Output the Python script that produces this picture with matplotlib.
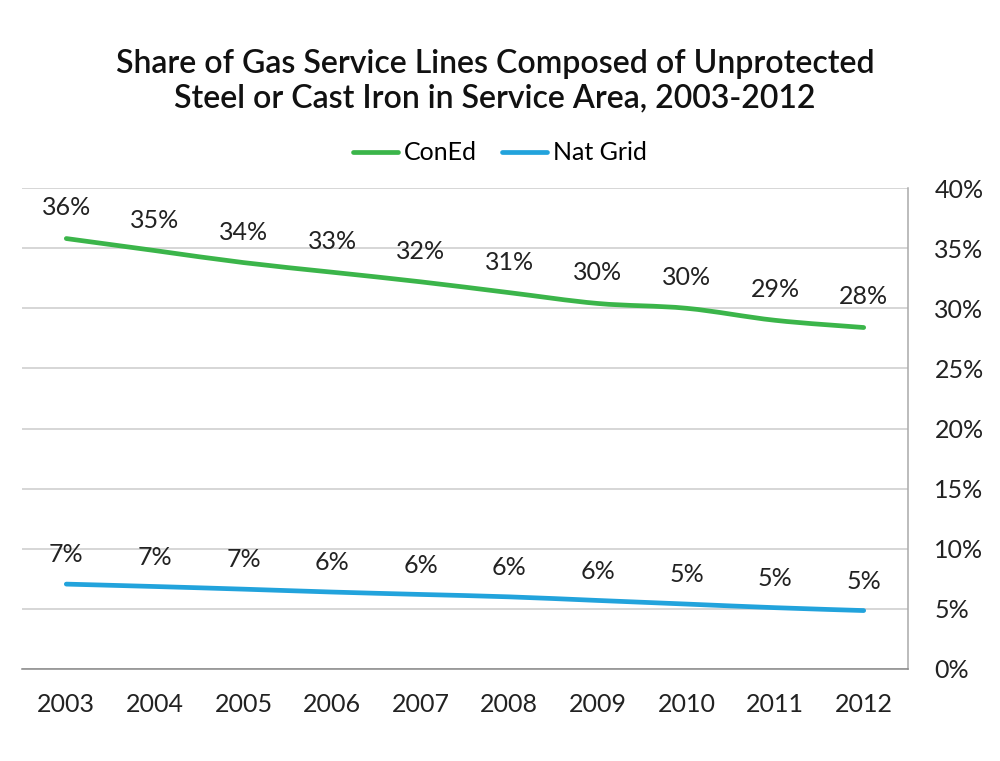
import matplotlib
matplotlib.use("Agg")
import matplotlib.pyplot as plt
from matplotlib.path import Path
from matplotlib.patches import PathPatch
from matplotlib.lines import Line2D
import numpy as np

plt.rcParams['font.family'] = ['Lato', 'DejaVu Sans']

years = ['2003', '2004', '2005', '2006', '2007', '2008', '2009', '2010', '2011', '2012']
coned = [35.8, 34.8, 33.8, 33.0, 32.2, 31.3, 30.4, 30.0, 29.0, 28.4]
natgrid = [7.06, 6.86, 6.64, 6.4, 6.2, 6.0, 5.7, 5.4, 5.1, 4.86]
coned_labels = ['36%', '35%', '34%', '33%', '32%', '31%', '30%', '30%', '29%', '28%']
natgrid_labels = ['7%', '7%', '7%', '6%', '6%', '6%', '6%', '5%', '5%', '5%']
yticks = [0, 5, 10, 15, 20, 25, 30, 35, 40]
ytick_labels = ['0%', '5%', '10%', '15%', '20%', '25%', '30%', '35%', '40%']
title = "Share of Gas Service Lines Composed of Unprotected\nSteel or Cast Iron in Service Area, 2003-2012"

GREEN = '#3BB54A'
BLUE = '#22A3DC'
FS = 18

fig = plt.figure(figsize=(10, 7.61), dpi=100)
ax = fig.add_axes([0.022, 0.1209, 0.886, 0.632])

def smooth_path(xs, ys):
    pts = np.column_stack([xs, ys]).astype(float)
    n = len(pts)
    verts = [pts[0]]
    codes = [Path.MOVETO]
    for i in range(n - 1):
        p0 = pts[i - 1] if i > 0 else pts[i]
        p1 = pts[i]
        p2 = pts[i + 1]
        p3 = pts[i + 2] if i + 2 < n else pts[i + 1]
        c1 = p1 + (p2 - p0) / 6.0
        c2 = p2 - (p3 - p1) / 6.0
        verts += [c1, c2, p2]
        codes += [Path.CURVE4] * 3
    return Path(verts, codes)

x = np.arange(len(years))
for vals, col in [(coned, GREEN), (natgrid, BLUE)]:
    patch = PathPatch(smooth_path(x, vals), facecolor='none', edgecolor=col,
                      lw=3.4, capstyle='round', joinstyle='round', zorder=3)
    ax.add_patch(patch)

for xi, v, lab in zip(x, coned, coned_labels):
    ax.annotate(lab, (xi, v), xytext=(0, 22), textcoords='offset points',
                ha='center', va='center', fontsize=FS, color='#222222')
for xi, v, lab in zip(x, natgrid, natgrid_labels):
    ax.annotate(lab, (xi, v), xytext=(0, 21), textcoords='offset points',
                ha='center', va='center', fontsize=FS, color='#222222')

ax.set_xlim(-0.5, len(years) - 0.5)
ax.set_ylim(0, 40)
ax.set_xticks(x)
ax.set_xticklabels(years, fontsize=FS, color='#222222')
ax.yaxis.tick_right()
ax.set_yticks(yticks)
ax.set_yticklabels(ytick_labels, fontsize=FS, color='#222222')
ax.tick_params(axis='y', length=0, pad=19)
ax.tick_params(axis='x', length=0, pad=17)
ax.grid(axis='y', color='#cccccc', lw=1.1, zorder=0)
ax.set_axisbelow(True)
for s in ['left', 'top']:
    ax.spines[s].set_visible(False)
ax.spines['right'].set_color('#aaaaaa')
ax.spines['bottom'].set_color('#888888')
ax.spines['right'].set_linewidth(1.1)
ax.spines['bottom'].set_linewidth(1.1)

handles = [Line2D([], [], color=GREEN, lw=3.4, solid_capstyle='round'),
           Line2D([], [], color=BLUE, lw=3.4, solid_capstyle='round')]
fig.legend(handles, ['ConEd', 'Nat Grid'], loc='center', bbox_to_anchor=(0.5, 0.799),
           ncol=2, frameon=False, fontsize=FS, handlelength=1.8, handletextpad=0.25,
           columnspacing=1.0)

fig.text(0.495, 0.8936, title, ha='center', va='center', fontsize=23,
         fontweight='semibold', linespacing=1.2, color='#111111')

fig.savefig('out.png', dpi=100)
